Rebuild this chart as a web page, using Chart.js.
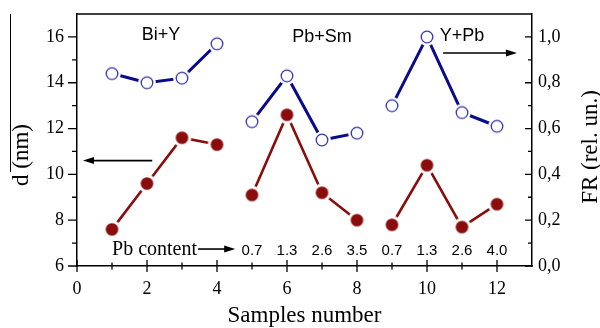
<!DOCTYPE html>
<html>
<head>
<meta charset="utf-8">
<script src="https://cdn.jsdelivr.net/npm/chart.js@4.4.1/dist/chart.umd.min.js"></script>
<style>
  html, body { margin: 0; padding: 0; background: #fff; }
</style>
</head>
<body>
<canvas id="frChart" width="600" height="328"></canvas>
<script>
// ── data ──
const SAMPLES = [1, 2, 3, 4, 5, 6, 7, 8, 9, 10, 11, 12];
const GROUPS = ['Bi+Y', 'Pb+Sm', 'Y+Pb'];
const PER_GROUP = 4;
const D_NM = [7.6, 9.6, 11.6, 11.3, 9.1, 12.6, 9.2, 8.0, 7.8, 10.4, 7.7, 8.7];
const FR = [0.84, 0.80, 0.82, 0.97, 0.63, 0.83, 0.55, 0.58, 0.70, 1.0, 0.67, 0.61];
const PB_CONTENT = ['0.7', '1.3', '2.6', '3.5', '0.7', '1.3', '2.6', '4.0']; // samples 5..12
const X_TICKS = [0, 2, 4, 6, 8, 10, 12];
const D_TICKS = [6, 8, 10, 12, 14, 16];
const FR_TICKS = [0, 0.2, 0.4, 0.6, 0.8, 1.0];

const RED = '#8a0c0c';
const NAVY = '#0a0a8c';
const SERIF = 'Liberation Serif';
const SANS = 'Liberation Sans';

// markers with a white halo so the line stops short of them
function marker(r, fill, stroke, lw) {
  const gap = 3;
  const c = document.createElement('canvas');
  const s = Math.ceil((r + gap) * 2 + 2);
  c.width = c.height = s;
  const g = c.getContext('2d');
  g.fillStyle = '#fff';
  g.beginPath(); g.arc(s / 2, s / 2, r + gap, 0, Math.PI * 2); g.fill();
  g.beginPath(); g.arc(s / 2, s / 2, r, 0, Math.PI * 2);
  g.fillStyle = fill; g.fill();
  if (stroke) { g.lineWidth = lw; g.strokeStyle = stroke; g.stroke(); }
  return c;
}
const dotRed = marker(6.3, RED);
const ringBlue = marker(5.8, '#fff', '#3535b5', 1.3);

// break the line between sample groups
const groupBreak = color => ctx => ((ctx.p0DataIndex + 1) % PER_GROUP === 0 ? 'rgba(0,0,0,0)' : color);

function fixTicks(values) {
  return scale => { scale.ticks = values.map(v => ({ value: v })); };
}

// fixed axis box sizes, no extra label overhang
function fixSize(dim, px) {
  return s => {
    s[dim] = px;
    s.paddingTop = s.paddingBottom = s.paddingLeft = s.paddingRight = 0;
  };
}

function arrow(ctx, x0, y0, x1, y1) {
  const dir = Math.sign(x1 - x0);
  ctx.beginPath();
  ctx.moveTo(x0, y0); ctx.lineTo(x1 - dir * 8, y1);
  ctx.stroke();
  ctx.beginPath();
  ctx.moveTo(x1, y1);
  ctx.lineTo(x1 - dir * 11, y1 - 3.5);
  ctx.lineTo(x1 - dir * 11, y1 + 3.5);
  ctx.closePath();
  ctx.fill();
}

// ── frame, minor ticks, axis titles and notes ──
const framePlugin = {
  id: 'frame',
  afterDraw(chart) {
    const { ctx, chartArea: ca } = chart;
    const { x, y, y1 } = chart.scales;
    ctx.save();
    ctx.strokeStyle = '#000';
    ctx.fillStyle = '#000';
    ctx.lineWidth = 1.5;

    // top edge
    ctx.beginPath();
    ctx.moveTo(ca.left, ca.top); ctx.lineTo(ca.right, ca.top);
    ctx.stroke();

    ctx.lineWidth = 1.3;
    ctx.beginPath();
    const xStep = (X_TICKS[1] - X_TICKS[0]) / 2;
    for (let v = X_TICKS[0]; v <= X_TICKS[X_TICKS.length - 1]; v += xStep) {
      const px = x.getPixelForValue(v);
      const len = X_TICKS.includes(v) ? 6 : 3.5;
      ctx.moveTo(px, ca.bottom - len); ctx.lineTo(px, ca.bottom + len);
    }
    const dStep = (D_TICKS[1] - D_TICKS[0]) / 2;
    for (let v = D_TICKS[0]; v <= D_TICKS[D_TICKS.length - 1]; v += dStep) {
      const py = y.getPixelForValue(v);
      const len = D_TICKS.includes(v) ? 9 : 5;
      ctx.moveTo(ca.left - len, py); ctx.lineTo(ca.left, py);
    }
    for (let i = 0; i <= 10; i++) {
      const py = y1.getPixelForValue(i / 10);
      const len = i % 2 === 0 ? 7 : 4;
      ctx.moveTo(ca.right, py); ctx.lineTo(ca.right - len, py);
    }
    ctx.stroke();

    // axis titles
    ctx.font = '23px "' + SERIF + '"';
    ctx.textAlign = 'center';
    ctx.textBaseline = 'middle';
    ctx.fillText('Samples number', (ca.left + ca.right) / 2, 316);

    ctx.save();
    ctx.translate(22, 155);
    ctx.rotate(-Math.PI / 2);
    ctx.fillText('d (nm)', 0, 0);
    ctx.restore();
    // bar over d
    ctx.lineWidth = 1;
    ctx.beginPath();
    ctx.moveTo(10.5, ca.top); ctx.lineTo(10.5, 172);
    ctx.stroke();

    ctx.save();
    ctx.translate(591, 147);
    ctx.rotate(-Math.PI / 2);
    ctx.fillText('FR (rel. un.)', 0, 0);
    ctx.restore();

    // group names
    ctx.font = '18px "' + SANS + '"';
    ctx.textBaseline = 'alphabetic';
    const groupX = [2.4, 7.0, 11.0];
    const groupY = [40, 42, 41];
    GROUPS.forEach((g, i) => ctx.fillText(g, x.getPixelForValue(groupX[i]), groupY[i]));

    // Pb content row
    ctx.font = '15px "' + SANS + '"';
    PB_CONTENT.forEach((t, i) => ctx.fillText(t, x.getPixelForValue(SAMPLES[PER_GROUP + i]), 255));
    ctx.font = '20px "' + SERIF + '"';
    ctx.textAlign = 'right';
    ctx.fillText('Pb content', 197, 255);

    ctx.lineWidth = 1.6;
    arrow(ctx, x.getPixelForValue(3.46), y.getPixelForValue(6.74), x.getPixelForValue(4.52), y.getPixelForValue(6.74));
    arrow(ctx, x.getPixelForValue(2.15), y.getPixelForValue(10.6), x.getPixelForValue(0.17), y.getPixelForValue(10.6));
    arrow(ctx, x.getPixelForValue(10.46), y1.getPixelForValue(0.93), x.getPixelForValue(12.57), y1.getPixelForValue(0.93));
    ctx.restore();
  }
};

const tickFont = { family: SERIF, size: 18 };

new Chart(document.getElementById('frChart'), {
  type: 'line',
  data: {
    datasets: [
      {
        label: 'FR',
        yAxisID: 'y1',
        data: SAMPLES.map((s, i) => ({ x: s, y: FR[i] })),
        borderColor: NAVY,
        borderWidth: 3,
        pointStyle: ringBlue,
        pointRadius: 6,
        segment: { borderColor: groupBreak(NAVY) }
      },
      {
        label: 'd',
        yAxisID: 'y',
        data: SAMPLES.map((s, i) => ({ x: s, y: D_NM[i] })),
        borderColor: RED,
        borderWidth: 2.6,
        pointStyle: dotRed,
        pointRadius: 6,
        segment: { borderColor: groupBreak(RED) }
      }
    ]
  },
  options: {
    responsive: false,
    animation: false,
    layout: { padding: { top: 14, left: 0, right: 0, bottom: 0 } },
    plugins: { legend: { display: false }, tooltip: { enabled: false } },
    scales: {
      x: {
        type: 'linear', min: 0, max: 13,
        afterBuildTicks: fixTicks(X_TICKS),
        afterFit: fixSize('height', 62),
        grid: { display: false, drawTicks: false },
        border: { display: true, color: '#000', width: 1.5 },
        ticks: { font: tickFont, color: '#000', padding: 12 }
      },
      y: {
        position: 'left', min: 6, max: 17,
        afterBuildTicks: fixTicks(D_TICKS),
        afterFit: fixSize('width', 77),
        grid: { display: false, drawTicks: false },
        border: { display: true, color: '#000', width: 1.5 },
        ticks: { font: tickFont, color: '#000', padding: 13 }
      },
      y1: {
        position: 'right', min: 0, max: 1.1,
        afterBuildTicks: fixTicks(FR_TICKS),
        afterFit: fixSize('width', 68),
        grid: { display: false, drawTicks: false },
        border: { display: true, color: '#000', width: 1.5 },
        ticks: {
          font: tickFont, color: '#000', padding: 6,
          callback: v => v.toFixed(1).replace('.', ',')
        }
      }
    }
  },
  plugins: [framePlugin]
});
</script>
</body>
</html>
